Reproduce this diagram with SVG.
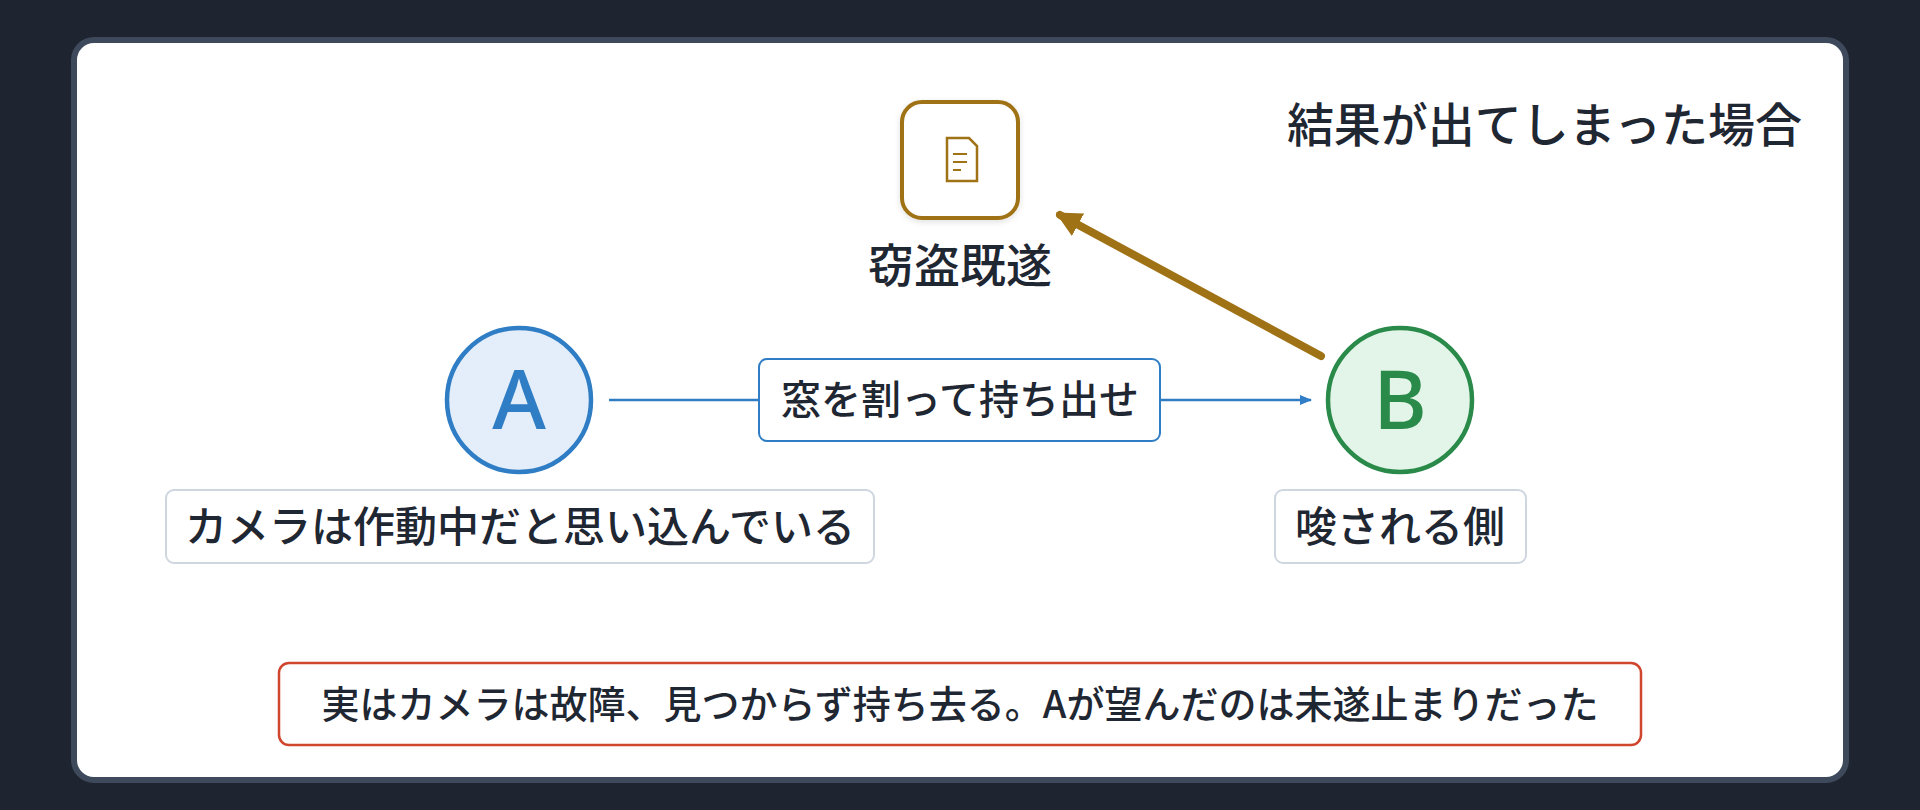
<svg xmlns="http://www.w3.org/2000/svg" width="1920" height="810" viewBox="0 0 1920 810">
<defs>
<style>
text{font-family:"Noto Sans CJK JP","Noto Sans",sans-serif;fill:#1f2733;font-weight:500}
.lbl{fill:#fff;stroke:#cfd6df;stroke-width:2}
</style>
<marker id="ab" viewBox="0 0 10 10" refX="9" refY="5" markerWidth="5" markerHeight="5" orient="auto"><path d="M0,1 L10,5 L0,9 Z" fill="#2f7dc4"/></marker>
<marker id="ar" viewBox="0 0 10 10" refX="8" refY="5" markerWidth="3.2" markerHeight="3.2" orient="auto"><path d="M0,0 L10,5 L0,10 Z" fill="#a07216"/></marker>
<filter id="sh" x="-20%" y="-20%" width="140%" height="140%"><feDropShadow dx="0" dy="2" stdDeviation="3" flood-color="#000" flood-opacity="0.12"/></filter>
</defs>
<rect width="1920" height="810" fill="#1e2530"/>
<rect x="74" y="40" width="1772" height="740" rx="20" fill="#fff" stroke="#3e4a5b" stroke-width="6"/>
<text x="1802" y="142" font-size="47" text-anchor="end">結果が出てしまった場合</text>
<g id="connectors">
<line x1="609" y1="400" x2="1311" y2="400" stroke="#2f7dc4" stroke-width="2.5" marker-end="url(#ab)"/>
<line x1="1321" y1="356" x2="1060" y2="215" stroke="#a07216" stroke-width="8" stroke-linecap="round" marker-end="url(#ar)"/>
</g>
<g id="edge-label">
<rect x="759" y="359" width="401" height="82" rx="8" fill="#fff" stroke="#2f7dc4" stroke-width="2"/>
<text x="960" y="414" font-size="40" text-anchor="middle">窓を割って持ち出せ</text>
</g>
<g id="node-doc">
<rect x="902" y="102" width="116" height="116" rx="20" fill="#fff" stroke="#a07216" stroke-width="4" filter="url(#sh)"/>
<path d="M947,138 H969 L977,146 V181 H947 Z" fill="none" stroke="#a07216" stroke-width="2.5"/>
<path d="M953,154 H967 M953,162 H967 M953,170 H961" stroke="#a07216" stroke-width="2"/>
<text x="960" y="282" font-size="46" text-anchor="middle">窃盗既遂</text>
</g>
<g id="node-A">
<circle cx="519" cy="400" r="72" fill="#e3eefa" stroke="#2f7dc4" stroke-width="4.5"/>
<text x="519" y="429" font-size="82" text-anchor="middle" style="fill:#2f7dc4;font-family:'Noto Sans',sans-serif">A</text>
<rect class="lbl" x="166" y="490" width="708" height="73" rx="8"/>
<text x="520" y="542" font-size="42" text-anchor="middle">カメラは作動中だと思い込んでいる</text>
</g>
<g id="node-B">
<circle cx="1400" cy="400" r="72" fill="#e3f5e8" stroke="#2a8a4a" stroke-width="4.5"/>
<text x="1400" y="429" font-size="82" text-anchor="middle" style="fill:#2a8a4a;font-family:'Noto Sans',sans-serif">B</text>
<rect class="lbl" x="1275" y="490" width="251" height="73" rx="8"/>
<text x="1400" y="542" font-size="42" text-anchor="middle">唆される側</text>
</g>
<g id="note">
<rect x="279" y="663" width="1362" height="82" rx="10" fill="#fff" stroke="#d0452e" stroke-width="2.5"/>
<text x="960" y="718" font-size="38" text-anchor="middle">実はカメラは故障、見つからず持ち去る。Aが望んだのは未遂止まりだった</text>
</g>
</svg>
